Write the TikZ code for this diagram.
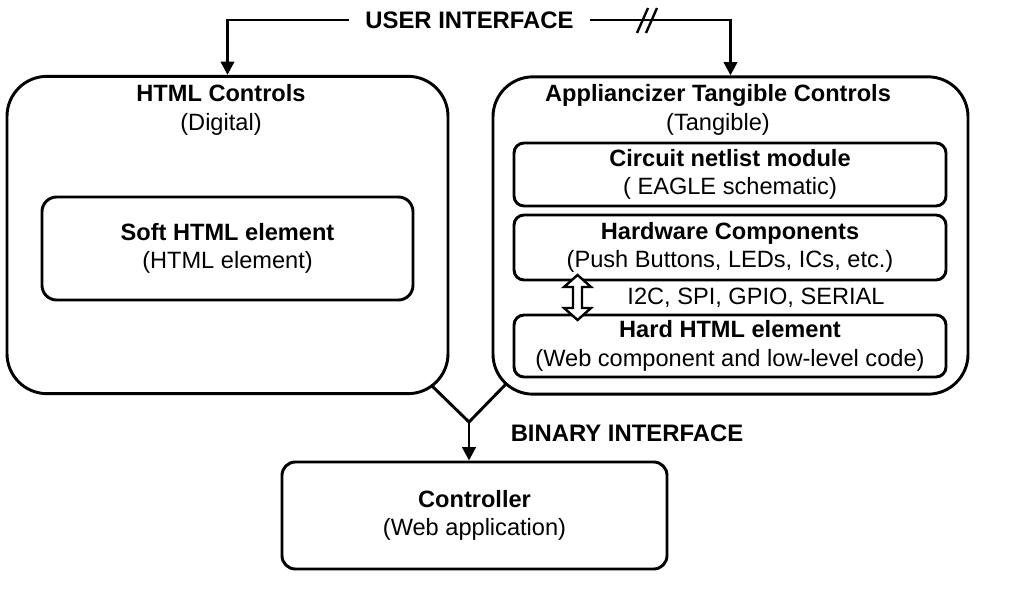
\documentclass[tikz,border=0pt]{standalone}
\usepackage{fontspec}
\setmainfont{Liberation Sans}
\usetikzlibrary{arrows.meta,positioning,calc}

\begin{document}
\begin{tikzpicture}[
x=0.75pt,y=-0.75pt,
font=\fontsize{17.7}{21.5}\selectfont,
every node/.style={align=center},
bigbox/.style={draw,line width=2.2pt,rounded corners=30pt,minimum height=238pt},
softbox/.style={draw,line width=2.2pt,rounded corners=11pt,minimum width=278.25pt,minimum height=77.25pt},
partbox/.style={draw,line width=2.2pt,rounded corners=7.5pt,minimum width=324pt,inner sep=2pt},
ctrlbox/.style={draw,line width=2.2pt,rounded corners=10pt,minimum width=288.75pt,minimum height=80.25pt},
iflabel/.style={font=\fontsize{17.9}{21.5}\selectfont\bfseries,inner xsep=12pt},
wire/.style={line width=2.2pt},
arrowed/.style={-{Triangle[width=10pt,length=10pt]}},
hollow/.style={line width=1.8pt,fill=white,line join=miter}
]
\useasboundingbox (0,0) rectangle (1009,591);

% the two control groups
\node[bigbox,minimum width=330.75pt] (html) at (227.5,235) {};
\node[bigbox,minimum width=356.25pt] (tangible) at (730.5,235.5) {};
\node (htmltitle) at (221,110) {\textbf{HTML Controls}\\(Digital)};
\node (tangtitle) at (718,110) {\textbf{Appliancizer Tangible Controls}\\(Tangible)};

\node[softbox] (soft) at (227.5,248.5) {\textbf{Soft HTML element}\\(HTML element)};

\node[partbox,minimum height=47.25pt] (netlist) at (730,174.5) {\textbf{Circuit netlist module}\\( EAGLE schematic)};
\node[partbox,minimum height=48.75pt] (hw) at (730,247.5) {\textbf{Hardware Components}\\(Push Buttons, LEDs, ICs, etc.)};
\node[partbox,minimum height=46.5pt] (hard) at (730,346) {\textbf{Hard HTML element}\\(Web component and low-level code)};
\node (bus) at (756,298) {I2C, SPI, GPIO, SERIAL};

\node[ctrlbox] (ctrl) at (474.5,515.5) {\textbf{Controller}\\(Web application)};

% interfaces
\node[iflabel] (ui) at (469.5,20) {USER INTERFACE};
\node[iflabel] (binary) at (627,433) {BINARY INTERFACE};

\draw[wire,arrowed] (ui.west) -| (html.north);
\draw[wire,arrowed] (ui.east) -| (tangible.north);
\draw[line width=1.8pt] (637,33) -- (648,8) (646,33) -- (657,8);

% hollow double arrow between hardware and hard element
\coordinate (linkmid) at ($([xshift=48.75pt]hw.south west)!0.5!([xshift=48.75pt]hard.north west)$);
\draw[hollow] (linkmid) ++(0,-22.5) -- ++(13.5,12) -- ++(-9,0) -- ++(0,21) -- ++(9,0)
  -- ++(-13.5,12) -- ++(-13.5,-12) -- ++(9,0) -- ++(0,-21) -- ++(-9,0) -- cycle;

\coordinate (lfoot) at (431,385);
\coordinate (rfoot) at (507,383);
\coordinate (join) at (469,422);
\draw[wire] (lfoot) -- (join) -- (rfoot);
\draw[wire,arrowed] (join) -- (join |- ctrl.north);
\end{tikzpicture}
\end{document}
